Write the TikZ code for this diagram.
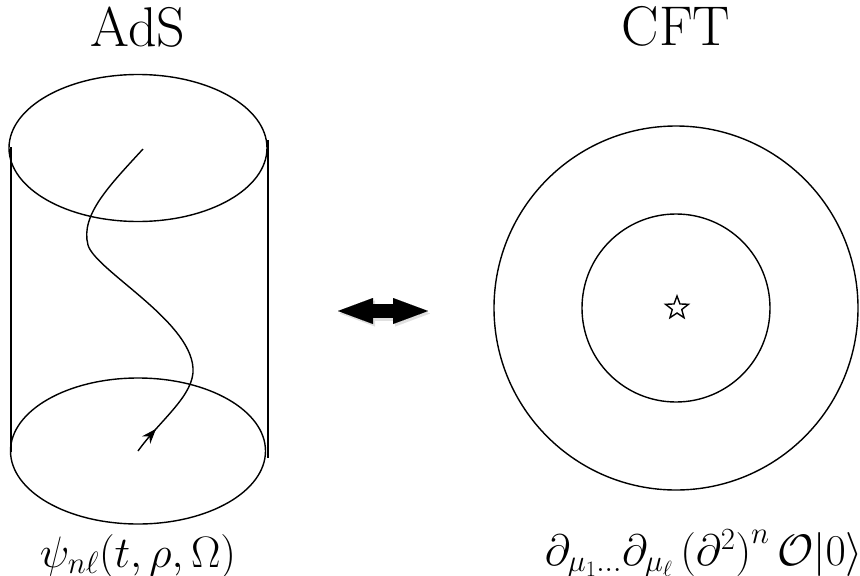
\RequirePackage{fix-cm}
\documentclass[tikz,border=0pt]{standalone}
\usepackage{tikz}
\usetikzlibrary{arrows.meta, shapes.geometric, decorations.markings}
\tikzset{
  trait/.style={line width=1.4pt, color=black},
  titre/.style={font=\fontsize{56}{62}\selectfont, anchor=base, inner sep=0pt},
  formule/.style={font=\fontsize{44}{50}\selectfont, anchor=base, inner sep=0pt},
  ligne/.style={trait, postaction={decorate}, decoration={markings,
    mark=at position 0.075 with {\arrow{Stealth[length=15pt, width=11pt]}}}},
  pont/.style={line width=14pt, {Triangle[length=35pt, width=26pt, line width=0.01pt]}-{Triangle[length=35pt, width=26pt, line width=0.01pt]}},
  etoile/.style={star, star points=5, star point ratio=2.4, draw, trait,
    minimum size=24pt, inner sep=0pt}
}
\begin{document}
\begin{tikzpicture}[x=1pt, y=-1pt]
  \useasboundingbox (0,0) rectangle (860,576);
  \coordinate (haut) at (138,148);
  \coordinate (bas) at (138,451);
  \coordinate (centre) at (676,308);

  % AdS : cylindre
  \draw[trait] (haut) ellipse [x radius=129, y radius=73.5];
  \draw[trait] (bas) ellipse [x radius=127.5, y radius=73];
  \draw[trait] (11,147) -- (11,452);
  \draw[trait] (268,140) -- (268,458);
  \draw[ligne] (bas) .. controls (160,420) and (195,395) .. (193,368)
    .. controls (190,320) and (95,270) .. (88,245)
    .. controls (80,215) and (110,185) .. (143,149);

  % CFT : cercles
  \draw[trait] (centre) circle [radius=182];
  \draw[trait] (centre) circle [radius=94];
  \node[etoile] (etoile) at (677,308) {};

  % double fleche
  \coordinate (g) at (338,311);
  \coordinate (d) at (428,311);
  \draw[pont, color=black!20, opacity=0.6, transform canvas={shift={(2pt,-2.5pt)}}] (g) -- (d);
  \draw[pont] (g) -- (d);

  \node[titre] (ads) at (138,46) {AdS};
  \node[titre] (cft) at (676,45) {CFT};
  \node[formule] (psi) at (138,567) {$\psi_{n\ell}(t,\rho,\Omega)$};
  \node[formule, anchor=base east] (etat) at (863,565)
    {$\partial_{\mu_1\ldots}\partial_{\mu_\ell}\,\Bigl(\partial^2\Bigr)^n\,\mathcal{O}|0\rangle$};
\end{tikzpicture}
\end{document}
